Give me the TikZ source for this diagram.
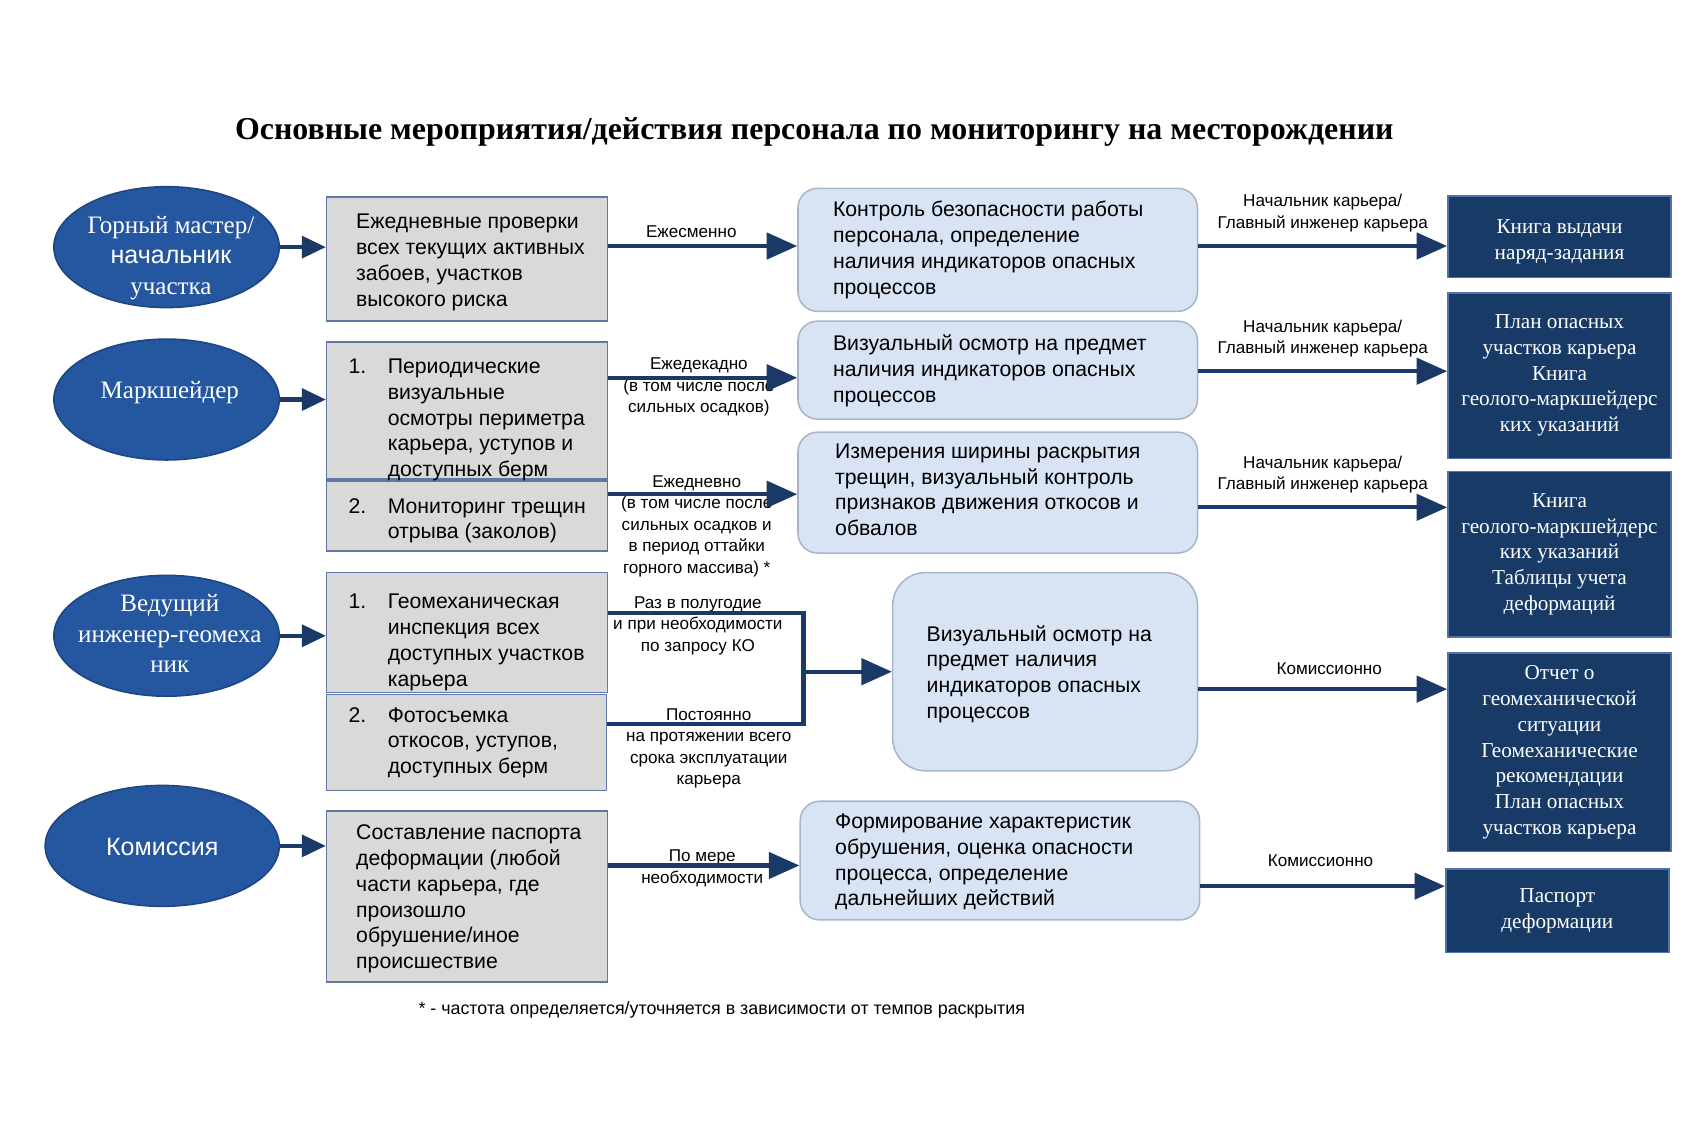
\documentclass[tikz,border=0pt]{standalone}
\usepackage{fontspec}
\setmainfont{Liberation Serif}
\newfontfamily\sansf{Liberation Sans}
\usetikzlibrary{arrows.meta,shapes.geometric}
\definecolor{ellfill}{RGB}{37,87,160}
\definecolor{ellline}{RGB}{30,70,130}
\definecolor{gfill}{RGB}{217,217,217}
\definecolor{gline}{RGB}{95,120,165}
\definecolor{bfill}{RGB}{216,227,243}
\definecolor{bline}{RGB}{168,181,200}
\definecolor{dfill}{RGB}{24,58,103}
\definecolor{dline}{RGB}{80,115,170}
\definecolor{arrc}{RGB}{27,57,103}
\newcommand\li[1]{\makebox[36pt][l]{#1}}
\newcommand\ind{\hspace*{36pt}}
\begin{document}
\begin{tikzpicture}[x=1pt,y=-1pt,
  ell/.style={ellipse, draw=ellline, fill=ellfill, line width=1.5pt, inner sep=0pt},
  etxt/.style={inner sep=0pt, text=white, align=center, font=\fontsize{23}{28}\selectfont},
  gbox/.style={draw=gline, fill=gfill, line width=1.4pt, inner sep=0pt},
  bbox/.style={draw=bline, fill=bfill, line width=1.4pt, rounded corners=18pt, inner sep=0pt},
  dbox/.style={draw=dline, fill=dfill, line width=1.4pt, inner sep=0pt, text=white,
    align=center, font=\fontsize{19.5}{23.6}\selectfont},
  btxt/.style={anchor=north west, inner sep=0pt, align=left, font=\sansf\fontsize{19.5}{23.7}\selectfont},
  lbl/.style={anchor=north, inner sep=0pt, align=center, font=\sansf\fontsize{15.7}{19.8}\selectfont},
  conn/.style={draw=arrc, line width=3.8pt},
  arr/.style={conn, -{Triangle[length=28pt,width=24pt]}},
  sarr/.style={conn, -{Triangle[length=22pt,width=20pt]}}
]
\useasboundingbox (0,0) rectangle (1568,1046);

% title
\node[font=\bfseries\fontsize{29.3}{34}\selectfont, inner sep=0pt] (title) at (748,121)
  {Основные мероприятия/действия персонала по мониторингу на месторождении};

% ellipses
\node[ell, minimum width=207pt, minimum height=111pt] (e1) at (153,227) {};
\node[ell, minimum width=207pt, minimum height=111pt] (e2) at (153,367) {};
\node[ell, minimum width=207pt, minimum height=111pt] (e3) at (153,584) {};
\node[ell, minimum width=215pt, minimum height=111pt] (e4) at (149,777) {};
\node[etxt] (e1t) at (157,237) {Горный мастер/\\{\sansf начальник}\\участка};
\node[etxt] (e2t) at (156,361) {Маркшейдер};
\node[etxt] (e3t) at (156,582) {Ведущий\\инженер-геомеха\\ник};
\node[etxt] (e4t) at (149,778) {{\sansf Комиссия}};

% gray boxes
\node[gbox, minimum width=258pt, minimum height=114pt] (g1) at (429,238) {};
\node[gbox, minimum width=258pt, minimum height=126pt] (g2a) at (429,377) {};
\node[gbox, minimum width=258pt, minimum height=64pt] (g2b) at (429,474) {};
\node[gbox, minimum width=258pt, minimum height=110pt] (g3a) at (429,581) {};
\node[gbox, minimum width=257pt, minimum height=88pt] (g3b) at (428.5,682) {};
\node[gbox, minimum width=258pt, minimum height=157pt] (g4) at (429,823.5) {};

\node[btxt] (g1t) at (327,196.5) {Ежедневные проверки\\всех текущих активных\\забоев, участков\\высокого риска};
\node[btxt] (g2at) at (320,329.5) {\li{1.}Периодические\\\ind визуальные\\\ind осмотры периметра\\\ind карьера, уступов и\\\ind доступных берм};
\node[btxt] (g2bt) at (320,457.5) {\li{2.}Мониторинг трещин\\\ind отрыва (заколов)};
\node[btxt] (g3at) at (320,545.5) {\li{1.}Геомеханическая\\\ind инспекция всех\\\ind доступных участков\\\ind карьера};
\node[btxt] (g3bt) at (320,649.5) {\li{2.}Фотосъемка\\\ind откосов, уступов,\\\ind доступных берм};
\node[btxt] (g4t) at (327,757.5) {Составление паспорта\\деформации (любой\\части карьера, где\\произошло\\обрушение/иное\\происшествие};

% blue boxes
\node[bbox, minimum width=367pt, minimum height=113pt] (b1) at (916.5,229.5) {};
\node[bbox, minimum width=367pt, minimum height=90pt] (b2) at (916.5,340) {};
\node[bbox, minimum width=367pt, minimum height=111pt] (b3) at (916.5,452.5) {};
\node[bbox, rounded corners=30pt, minimum width=280pt, minimum height=182pt] (b4) at (960,617) {};
\node[bbox, minimum width=367pt, minimum height=109pt] (b5) at (918.5,790.5) {};

\node[btxt] (b1t) at (765,184.8) {Контроль безопасности работы\\персонала, определение\\наличия индикаторов опасных\\процессов};
\node[btxt] (b2t) at (765,307.3) {Визуальный осмотр на предмет\\наличия индикаторов опасных\\процессов};
\node[btxt] (b3t) at (767,407.3) {Измерения ширины раскрытия\\трещин, визуальный контроль\\признаков движения откосов и\\обвалов};
\node[btxt] (b4t) at (851,574.3) {Визуальный осмотр на\\предмет наличия\\индикаторов опасных\\процессов};
\node[btxt] (b5t) at (767,747.3) {Формирование характеристик\\обрушения, оценка опасности\\процесса, определение\\дальнейших действий};

% dark boxes
\node[dbox, minimum width=205pt, minimum height=75pt] (d1) at (1432.5,217.5) {\rule{0pt}{22pt}Книга выдачи\\наряд-задания};
\node[dbox, minimum width=205pt, minimum height=152pt] (d2) at (1432.5,345) {План опасных\\участков карьера\\Книга\\геолого-маркшейдерс\\ких указаний};
\node[dbox, minimum width=205pt, minimum height=152pt] (d3) at (1432.5,509) {Книга\\геолого-маркшейдерс\\ких указаний\\Таблицы учета\\деформаций};
\node[dbox, minimum width=205pt, minimum height=182pt] (d4) at (1432.5,691) {Отчет о\\геомеханической\\ситуации\\Геомеханические\\рекомендации\\План опасных\\участков карьера};
\node[dbox, minimum width=205pt, minimum height=77pt] (d5) at (1430.5,836.5) {Паспорт\\деформации};

% labels
\node[lbl] (l1) at (635,207.5) {Ежесменно};
\node[lbl] (l2) at (642,328.5) {Ежедекадно\\(в том числе после\\сильных осадков)};
\node[lbl] (l3) at (640,436.5) {Ежедневно\\(в том числе после\\сильных осадков и\\в период оттайки\\горного массива) *};
\node[lbl] (l4) at (641,547.5) {Раз в полугодие\\и при необходимости\\по запросу КО};
\node[lbl] (l5) at (651,650.5) {Постоянно\\на протяжении всего\\срока эксплуатации\\карьера};
\node[lbl] (l6) at (645,780.5) {По мере\\необходимости};
\node[lbl] (r1) at (1215,178.5) {Начальник карьера/\\Главный инженер карьера};
\node[lbl] (r2) at (1215,293.5) {Начальник карьера/\\Главный инженер карьера};
\node[lbl] (r3) at (1215,418.5) {Начальник карьера/\\Главный инженер карьера};
\node[lbl] (r4) at (1221,608.5) {Комиссионно};
\node[lbl] (r5) at (1213,784.5) {Комиссионно};
\node[inner sep=0pt, font=\sansf\fontsize{16.4}{19}\selectfont] (foot) at (663,927.5)
  {* - частота определяется/уточняется в зависимости от темпов раскрытия};

% ellipse arrows
\draw[sarr] (e1.east) -- (e1.east -| g1.west);
\draw[sarr] (e2.east) -- (e2.east -| g2a.west);
\draw[sarr] (e3.east) -- (e3.east -| g3a.west);
\draw[sarr] (e4.east) -- (e4.east -| g4.west);

% gray -> blue
\draw[arr] ([yshift=3.5pt]b1.west -| g1.east) -- ([yshift=3.5pt]b1.west);
\draw[arr] ([yshift=-7pt]b2.west -| g2a.east) -- ([yshift=-7pt]b2.west);
\draw[arr] ([yshift=-1.5pt]b3.west -| g2b.east) -- ([yshift=-1.5pt]b3.west);
\coordinate (jn) at (738,617);
\draw[conn] ([yshift=18pt]g3a.east) -| (jn) |- ([yshift=17pt]g3b.east);
\draw[arr] (jn) -- (b4.west);
\draw[arr] ([yshift=-4.5pt]b5.west -| g4.east) -- ([yshift=-4.5pt]b5.west);

% blue -> dark
\draw[arr] ([yshift=3.5pt]b1.east) -- ([yshift=3.5pt]b1.east -| d1.west);
\draw[arr] ([yshift=-1pt]b2.east) -- ([yshift=-1pt]b2.east -| d2.west);
\draw[arr] ([yshift=-13.5pt]b3.east) -- ([yshift=-13.5pt]b3.east -| d3.west);
\draw[arr] ([yshift=-16pt]b4.east) -- ([yshift=-16pt]b4.east -| d4.west);
\draw[arr] ([yshift=-23.5pt]b5.east) -- ([yshift=-23.5pt]b5.east -| d5.west);
\end{tikzpicture}
\end{document}
